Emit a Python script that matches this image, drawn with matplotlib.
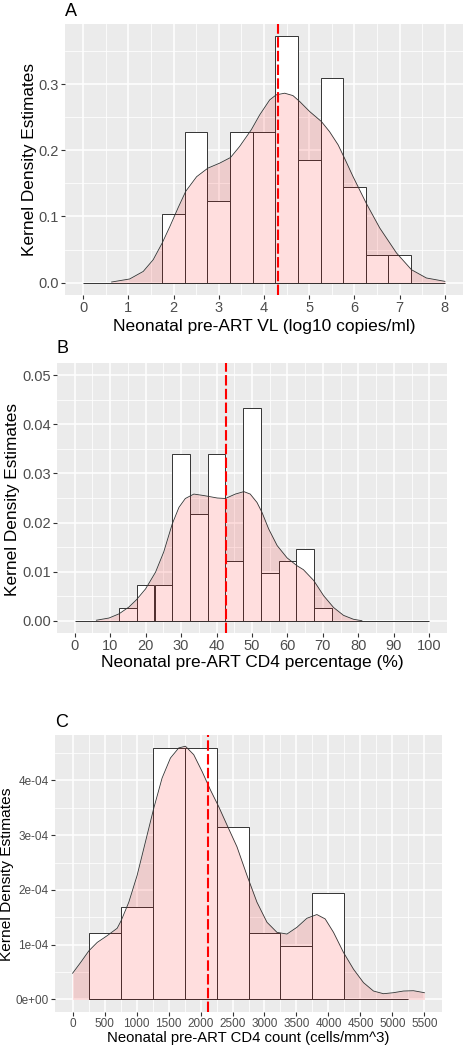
import matplotlib
matplotlib.use("Agg")
import matplotlib.pyplot as plt
import numpy as np

# ---------------- data ----------------
# Panel A: Neonatal pre-ART VL (log10 copies/ml)
a_bin_left = [1.75, 2.25, 2.75, 3.25, 3.75, 4.25, 4.75, 5.25, 5.75, 6.25, 6.75]
a_bin_height = [0.103, 0.227, 0.124, 0.227, 0.227, 0.372, 0.185, 0.309, 0.145, 0.042, 0.042]
a_dens_x = [0.63, 1.03, 1.33, 1.55, 1.75, 1.92, 2.10, 2.27, 2.51, 2.76, 3.02, 3.26, 3.46,
            3.72, 3.905, 4.126, 4.27, 4.457, 4.64, 4.79, 5.01, 5.27, 5.45, 5.64, 5.78,
            5.97, 6.26, 6.56, 6.93, 7.26, 7.59, 8.00]
a_dens_y = [0.001, 0.0056, 0.017, 0.0347, 0.060, 0.085, 0.113, 0.138, 0.160, 0.173, 0.1805,
            0.189, 0.2056, 0.231, 0.2534, 0.276, 0.2836, 0.2861, 0.2825, 0.2735, 0.2584,
            0.2433, 0.228, 0.208, 0.188, 0.160, 0.120, 0.0825, 0.0448, 0.0196, 0.0071, 0.002]
a_mean = 4.3

# Panel B: Neonatal pre-ART CD4 percentage (%)
b_bin_left = [12.5, 17.5, 22.5, 27.5, 32.5, 37.5, 42.5, 47.5, 52.5, 57.5, 62.5, 67.5]
b_bin_height = [0.0025, 0.0073, 0.0073, 0.0339, 0.0217, 0.0339, 0.0121, 0.0434, 0.0097,
                0.0121, 0.0146, 0.0025]
b_dens_x = [6.1, 9.66, 12.5, 15.3, 17.45, 20.0, 22.8, 25.1, 27.5, 29.4, 31.2, 33.6, 36.4,
            40.2, 42.5, 45.3, 47.7, 49.5, 51.4, 52.8, 54.7, 57.1, 59.9, 62.7, 64.5, 67.4,
            70.2, 73.0, 75.8, 78.6, 81.0]
b_dens_y = [0.0001, 0.00055, 0.0014, 0.0028, 0.0043, 0.0065, 0.0099, 0.0140, 0.0197, 0.0231,
            0.0249, 0.0258, 0.0255, 0.0250, 0.0249, 0.0258, 0.0263, 0.0258, 0.0241, 0.0221,
            0.0187, 0.0153, 0.0128, 0.0112, 0.0104, 0.0082, 0.0051, 0.0027, 0.0011, 0.0003,
            0.0]
b_mean = 42.7

# Panel C: Neonatal pre-ART CD4 count (cells/mm^3)
c_bin_left = [250, 750, 1250, 1750, 2250, 2750, 3250, 3750]
c_bin_height = [1.213e-4, 1.697e-4, 4.588e-4, 4.588e-4, 3.142e-4, 1.213e-4, 0.974e-4, 1.936e-4]
c_dens_x = [0, 125, 255, 385, 541, 697, 760, 879, 1009, 1139, 1269, 1399, 1530, 1660, 1764,
            1894, 2024, 2154, 2284, 2414, 2570, 2726, 2882, 3039, 3195, 3351, 3507, 3663,
            3819, 3949, 4079, 4235, 4392, 4548, 4704, 4860, 5016, 5172, 5328, 5500]
c_dens_y = [0.478e-4, 0.674e-4, 0.888e-4, 1.041e-4, 1.164e-4, 1.30e-4, 1.44e-4, 1.776e-4,
            2.266e-4, 2.879e-4, 3.492e-4, 4.043e-4, 4.41e-4, 4.594e-4, 4.625e-4, 4.47e-4,
            4.165e-4, 3.828e-4, 3.522e-4, 3.185e-4, 2.787e-4, 2.266e-4, 1.776e-4, 1.409e-4,
            1.225e-4, 1.194e-4, 1.317e-4, 1.482e-4, 1.55e-4, 1.47e-4, 1.225e-4, 0.858e-4,
            0.551e-4, 0.306e-4, 0.153e-4, 0.104e-4, 0.1225e-4, 0.153e-4, 0.159e-4, 0.1225e-4]
c_mean = 2112

ylabel = "Kernel Density Estimates"

# ---------------- style ----------------
W, H, DPI = 468, 1050, 100
FONT = "Liberation Sans"
plt.rcParams["font.family"] = [FONT, "DejaVu Sans"]

fig = plt.figure(figsize=(W / DPI, H / DPI), dpi=DPI)
fig.patch.set_facecolor("white")


def px_axes(l, t, r, b):
    return fig.add_axes([l / W, 1 - b / H, (r - l) / W, (b - t) / H])


def fit_width(txt, target_px, vertical=False):
    fig.canvas.draw()
    r = fig.canvas.get_renderer()
    bb = txt.get_window_extent(r)
    cur = bb.height if vertical else bb.width
    txt.set_fontsize(txt.get_fontsize() * target_px / cur)


def style_axes(ax, xlim, ylim, xmaj, xmin, ymaj, ymin, yfmt, tick_fs, tick_family=None):
    ax.set_facecolor("#EBEBEB")
    for s in ax.spines.values():
        s.set_visible(False)
    ax.set_xlim(*xlim)
    ax.set_ylim(*ylim)
    ax.set_xticks(xmaj)
    ax.set_xticks(xmin, minor=True)
    ax.set_yticks(ymaj)
    ax.set_yticks(ymin, minor=True)
    ax.set_yticklabels([yfmt(v) for v in ymaj])
    ax.set_xticklabels([("%g" % v) for v in xmaj])
    ax.grid(which="major", color="white", linewidth=1.1)
    ax.grid(which="minor", color="white", linewidth=0.55)
    ax.set_axisbelow(True)
    ax.tick_params(which="major", length=3, width=0.8, color="#333333",
                   labelcolor="#4D4D4D", labelsize=tick_fs, pad=1.5)
    ax.tick_params(which="minor", length=0)
    if tick_family:
        for lab in ax.get_xticklabels() + ax.get_yticklabels():
            lab.set_family(tick_family)


def draw_panel(ax, bin_left, bin_height, width, base_range, dx, dy, mean):
    ax.bar(bin_left, bin_height, width=width, align="edge", facecolor="white",
           edgecolor="#333333", linewidth=0.7, zorder=2)
    ax.hlines(0, base_range[0], base_range[1], color="#333333", linewidth=0.7, zorder=2)
    ax.fill_between(dx, dy, 0, color="red", alpha=0.13, linewidth=0, zorder=3)
    ax.plot(dx, dy, color="#333333", linewidth=0.6, zorder=4)
    ax.axvline(mean, color="#FF0000", linewidth=1.5, dashes=(5, 1.6), zorder=5)


# ---- Panel A ----
axA = px_axes(65, 24, 463, 295)
style_axes(axA, (-0.4, 8.4), (-0.0186, 0.3906),
           np.arange(0, 9, 1), np.arange(0.5, 8.5, 1),
           [0.0, 0.1, 0.2, 0.3], [0.05, 0.15, 0.25, 0.35],
           lambda v: "%.1f" % v, 10.5)
draw_panel(axA, a_bin_left, a_bin_height, 0.5, (0, 8), a_dens_x, a_dens_y, a_mean)
tA = fig.text(65 / W, 1 - 16 / H, "A", fontsize=13, ha="left", va="baseline")
xlA = fig.text(264 / W, 1 - 326 / H, "Neonatal pre-ART VL (log10 copies/ml)",
               fontsize=12, ha="center", va="center")
ylA = fig.text(30 / W, 1 - 159 / H, ylabel, fontsize=12, rotation=90,
               ha="center", va="center")

# ---- Panel B ----
axB = px_axes(57, 363, 447, 633)
style_axes(axB, (-5, 105), (-0.0025, 0.0525),
           np.arange(0, 101, 10), np.arange(5, 101, 10),
           [0.0, 0.01, 0.02, 0.03, 0.04, 0.05], np.arange(0.005, 0.051, 0.01),
           lambda v: "%.2f" % v, 10.5)
draw_panel(axB, b_bin_left, b_bin_height, 5, (0, 100), b_dens_x, b_dens_y, b_mean)
tB = fig.text(57 / W, 1 - 353 / H, "B", fontsize=13, ha="left", va="baseline")
xlB = fig.text(252 / W, 1 - 662 / H, "Neonatal pre-ART CD4 percentage (%)",
               fontsize=12, ha="center", va="center")
ylB = fig.text(13 / W, 1 - 499 / H, ylabel, fontsize=12, rotation=90,
               ha="center", va="center")

# ---- Panel C ----
axC = px_axes(55, 735, 442, 1012)
style_axes(axC, (-275, 5775), (-0.23e-4, 4.83e-4),
           np.arange(0, 5501, 500), np.arange(250, 5501, 500),
           [0, 1e-4, 2e-4, 3e-4, 4e-4], np.arange(0.5e-4, 4.6e-4, 1e-4),
           lambda v: "%.0e" % v,
           8.5, tick_family=["Liberation Sans Narrow", FONT])
draw_panel(axC, c_bin_left, c_bin_height, 500, (250, 5250), c_dens_x, c_dens_y, c_mean)
tC = fig.text(55 / W, 1 - 727 / H, "C", fontsize=13, ha="left", va="baseline")
xlC = fig.text(248 / W, 1 - 1038 / H, "Neonatal pre-ART CD4 count (cells/mm^3)",
               fontsize=11, ha="center", va="center")
ylC = fig.text(7 / W, 1 - 874 / H, ylabel, fontsize=11, rotation=90,
               ha="center", va="center")

fit_width(xlA, 302)
fit_width(xlB, 303)
fit_width(xlC, 282)
fit_width(ylA, 192, vertical=True)
fit_width(ylB, 192, vertical=True)
fit_width(ylC, 172, vertical=True)

fig.savefig("out.png", dpi=DPI)
